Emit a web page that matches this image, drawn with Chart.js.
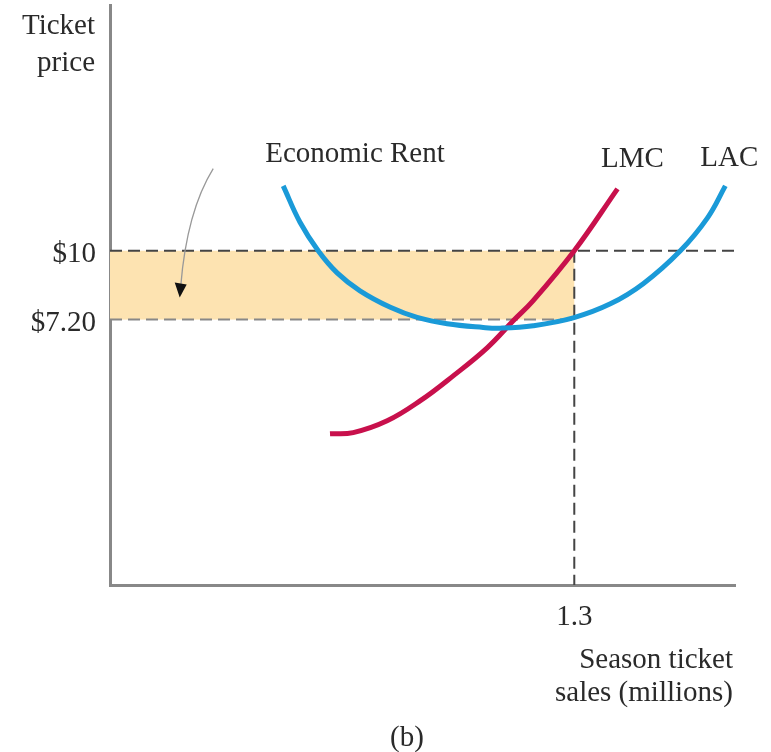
<!DOCTYPE html>
<html>
<head>
<meta charset="utf-8">
<script src="https://cdn.jsdelivr.net/npm/chart.js@4.4.0/dist/chart.umd.min.js"></script>
<style>
  html, body { margin: 0; padding: 0; background: #fff; }
  #wrap { width: 771px; height: 752px; }
</style>
</head>
<body>
<div id="wrap"><canvas id="myChart"></canvas></div>
<script>
// ---- data ----
var lacX = [0.485, 0.532, 0.583, 0.636, 0.700, 0.785, 0.860, 0.944, 1.045, 1.093, 1.185, 1.297, 1.401, 1.493, 1.597, 1.673, 1.723];
var lacY = [12.64, 11.16, 10.0, 9.10, 8.37, 7.70, 7.29, 7.03, 6.88, 6.85, 6.95, 7.27, 7.84, 8.66, 10.0, 11.34, 12.64];
var lmcX = [0.616, 0.681, 0.776, 0.869, 0.961, 1.056, 1.129, 1.185, 1.30, 1.421];
var lmcY = [2.55, 2.60, 3.08, 3.90, 4.91, 6.05, 7.15, 7.97, 10.0, 12.52];
var priceTicks = [7.2, 10];
var priceLabels = ["$7.20", "$10"];
var qtyTicks = [1.3];
var qtyLabels = ["1.3"];
var rentPrice = 10, avgCost = 7.2, qty = 1.3;

var SERIF = "'Liberation Serif', 'DejaVu Serif', serif";
var TXT = "#2a2a2a";
var FS = 29;

function toPts(xs, ys) {
    var out = [];
    for (var i = 0; i < xs.length; i++) out.push({x: xs[i], y: ys[i]});
    return out;
}

// shaded rent area + dashed guide lines, drawn under the curves
var guides = {
    id: "guides",
    beforeDatasetsDraw: function(chart) {
        var c = chart.ctx, xs = chart.scales.x, ys = chart.scales.y;
        var x0 = xs.getPixelForValue(0), xq = xs.getPixelForValue(qty);
        var yP = ys.getPixelForValue(rentPrice), yC = ys.getPixelForValue(avgCost);
        var a = chart.chartArea;
        c.save();
        c.fillStyle = "#fde3b1";
        c.fillRect(x0, yP, xq - x0, yC - yP);
        c.lineWidth = 2;
        c.setLineDash([12, 6]);
        c.strokeStyle = "#444";
        c.beginPath(); c.moveTo(x0, yP); c.lineTo(a.right, yP); c.stroke();
        c.beginPath(); c.moveTo(xq, yP); c.lineTo(xq, a.bottom); c.stroke();
        c.strokeStyle = "#888";
        c.beginPath(); c.moveTo(x0, yC); c.lineTo(xq, yC); c.stroke();
        c.restore();
    }
};

// text labels and the arrow
var labels = {
    id: "labels",
    afterDraw: function(chart) {
        var c = chart.ctx, xs = chart.scales.x, ys = chart.scales.y, a = chart.chartArea;
        function px(v) { return xs.getPixelForValue(v); }
        function py(v) { return ys.getPixelForValue(v); }
        c.save();
        c.fillStyle = TXT;
        c.font = FS + "px " + SERIF;
        c.textBaseline = "alphabetic";

        c.textAlign = "center";
        c.fillText("Economic Rent", px(0.686), py(13.6));
        c.fillText("LMC", px(1.463), py(13.4));
        c.fillText("LAC", px(1.734), py(13.45));

        c.textAlign = "right";
        c.fillText("Ticket", a.left - 15, 34);
        c.fillText("price", a.left - 15, 71);
        c.fillText("Season ticket", a.right - 2, 668);
        c.fillText("sales (millions)", a.right - 2, 701);

        c.textAlign = "center";
        c.fillText("(b)", 407, 746);

        // arrow from label down into the rent box
        var sx = px(0.289), sy = py(13.34);
        var cx = px(0.215), cy = py(11.6);
        var ex = px(0.198), ey = py(8.55);
        c.strokeStyle = "#999";
        c.lineWidth = 1.3;
        c.setLineDash([]);
        c.beginPath(); c.moveTo(sx, sy); c.quadraticCurveTo(cx, cy, ex, ey); c.stroke();
        c.fillStyle = "#111";
        c.beginPath();
        c.moveTo(ex - 6, ey - 4);
        c.lineTo(ex + 6, ey - 2);
        c.lineTo(ex - 1, ey + 11);
        c.closePath();
        c.fill();
        c.restore();
    }
};

var bieudo = new Chart(document.getElementById("myChart"), {
    type: "line",
    data: {
        datasets: [
            {
                label: "LAC",
                data: toPts(lacX, lacY),
                borderColor: "#1a9ad8",
                borderWidth: 5,
                pointRadius: 0,
                fill: false,
                tension: 0.4
            },
            {
                label: "LMC",
                data: toPts(lmcX, lmcY),
                borderColor: "#c8104c",
                borderWidth: 5,
                pointRadius: 0,
                fill: false,
                tension: 0.4
            }
        ]
    },
    options: {
        responsive: true,
        maintainAspectRatio: false,
        animation: false,
        layout: {padding: {top: 5, right: 36, left: 0, bottom: 0}},
        plugins: {legend: {display: false}, tooltip: {enabled: false}},
        scales: {
            x: {
                type: "linear",
                min: 0,
                max: 1.75,
                grid: {display: false, drawTicks: false},
                border: {display: true, color: "#888", width: 3},
                afterBuildTicks: function(s) { s.ticks = qtyTicks.map(function(v) { return {value: v}; }); },
                afterFit: function(s) { s.height = 167; s.paddingLeft = 0; s.paddingRight = 0; },
                ticks: {
                    padding: 15,
                    color: TXT,
                    font: {family: SERIF, size: FS},
                    callback: function(v) { return qtyLabels[qtyTicks.indexOf(v)]; }
                }
            },
            y: {
                type: "linear",
                min: -3.6,
                max: 20,
                grid: {display: false, drawTicks: false},
                border: {display: true, color: "#888", width: 3},
                afterBuildTicks: function(s) { s.ticks = priceTicks.map(function(v) { return {value: v}; }); },
                afterFit: function(s) { s.width = 110; s.paddingTop = 0; s.paddingBottom = 0; },
                ticks: {
                    padding: 14,
                    labelOffset: 4,
                    color: TXT,
                    font: {family: SERIF, size: FS},
                    callback: function(v) { return priceLabels[priceTicks.indexOf(v)]; }
                }
            }
        }
    },
    plugins: [guides, labels]
});
</script>
</body>
</html>
